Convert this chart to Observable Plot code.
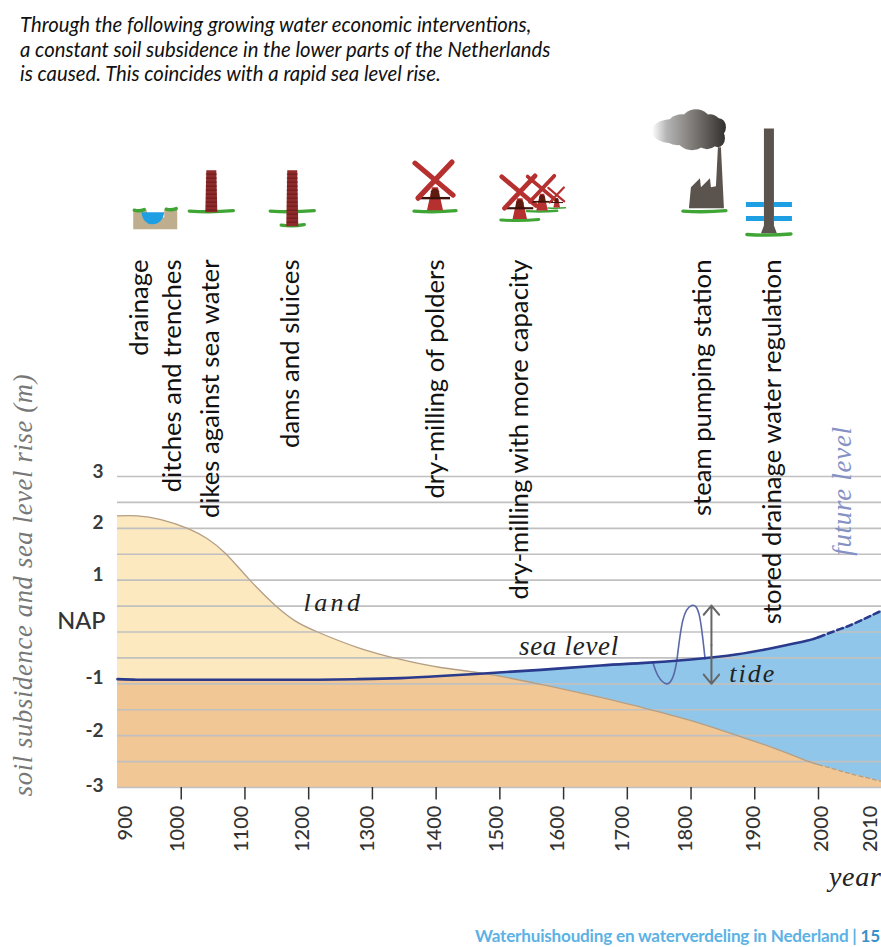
<!DOCTYPE html>
<html>
<head>
<meta charset="utf-8">
<script src="https://cdn.jsdelivr.net/npm/d3@7"></script>
<script src="https://cdn.jsdelivr.net/npm/@observablehq/plot@0.6"></script>
<style>
html,body{margin:0;padding:0;background:#fff;overflow:hidden}
#head{height:95px;box-sizing:border-box;padding:12px 0 0 20px;font:italic 20.3px/24.5px Lato,sans-serif;color:#111}
#foot{height:22px;text-align:right;padding-right:1px;font:700 17.1px/22px Lato,sans-serif;letter-spacing:-.2px;color:#5cb2e4}
#foot b{color:#3a90c8;font-weight:700}
svg{display:block}
.script{letter-spacing:.7px}
.mid{letter-spacing:2px}
.wide{letter-spacing:3.4px}
</style>
</head>
<body>
<div id="head">Through the following growing water economic interventions,<br>a constant soil subsidence in the lower parts of the Netherlands<br>is caused. This coincides with a rapid sea level rise.</div>
<div id="chart"></div>
<div id="foot">Waterhuishouding en waterverdeling in Nederland | <b>15</b></div>
<script>
const years = [900,931,968,1010,1041,1070,1107,1146,1178,1214,1277,1344,1407,1475,1564,1658,1721,1800,1873,1930,1983,2000,2003.5,2005.6,2010];
const land  = [2.24,2.24,2.17,2.0,1.80,1.51,1.01,0.53,0.22,0,-0.30,-0.53,-0.685,-0.80,-1.01,-1.26,-1.45,-1.71,-2.0,-2.24,-2.49,-2.56,-2.68,-2.75,-2.88];
const sea   = [-0.91,-0.92,-0.92,-0.92,-0.92,-0.92,-0.92,-0.92,-0.92,-0.92,-0.91,-0.89,-0.85,-0.80,-0.73,-0.645,-0.60,-0.53,-0.43,-0.305,-0.165,-0.10,0.06,0.16,0.41];
const tideYears = [1740,1748,1762,1771.5,1778,1787,1801,1813,1822];
const tideLevel = [-0.58,-0.84,-1.0,-0.87,-0.52,0.22,0.51,0.32,-0.52];
const gridLevels = [3,2.5,2,1.5,1,0.5,0,-0.5,-1,-1.5,-2,-2.5,-3];
const xTicks = [1000,1100,1200,1300,1400,1500,1600,1700,1800,1900,2000];
const xLabels = ["900","1000","1100","1200","1300","1400","1500","1600","1700","1800","1900","2000","2010"];
const xLabelAt = [912,995,1095,1190,1293,1397,1495,1590,1692,1792,1898,2000.5,2008.2];
const yLabels = ["3","2","1","-1","-2","-3"];
const yLabelAt = [3.08,2.11,1.11,-0.88,-1.9,-2.96];
const steps = ["drainage","ditches and trenches","dikes against sea water","dams and sluices","dry-milling of polders","dry-milling with more capacity","steam pumping station","stored drainage water regulation"];
const stepYears = [935,987,1047,1172,1399,1532,1819,1928];
const iconKinds = ["ditch","dike","dam","mill","mill","mill","mill","factory","pump"];
const iconYears = [960,1048,1175,1399,1532,1567,1590,1821,1923];
const iconLevels = [8.11,8.11,8.11,8.11,7.94,8.11,8.17,8.11,7.66];
const iconSizes = [1,1,1,1,0.9,0.72,0.42,1,1];

const table = years.map((year,i)=>({year,land:land[i],sea:sea[i]}));
const water = table.filter(d=>d.year>=1475);
const tide = tideYears.map((year,i)=>({year,level:tideLevel[i]}));
const H = 95, curve = "natural";

function drawIcon(g, kind, id){
  const green="#3fa535", brick="#8f2b2b", red="#b5302f", dark="#5b544e", blue="#1f9fe3";
  const ground=(x1,x2,y=0)=>g.append("path").attr("d",`M${x1},${y}Q${(x1+x2)/2},${y+1.5} ${x2},${y-.5}`).attr("stroke",green).attr("stroke-width",3.4).attr("fill","none").attr("stroke-linecap","round");
  const poly=(p,f)=>g.append("polygon").attr("points",p).attr("fill",f);
  if(kind==="ditch"){
    poly("-22,-2 -9,-2 -7,6 9,6 9,-2 22,-2 22,18 -22,18","#bfae8e");
    g.append("path").attr("d","M-14,1 H9 Q7,13 -3,13 Q-12,13 -14,1Z").attr("fill",blue);
    ground(-21,-11,-1); ground(11,21,-2);
  } else if(kind==="dike"||kind==="dam"){
    if(kind==="dike") ground(-22,22);
    else { ground(-22,22); ground(-11,12,14); }
    const bottom = kind==="dike"?1:15;
    poly(`-5,-41 5,-41 6,${bottom} -6,${bottom}`,brick);
    for(let y=-37;y<bottom;y+=4) g.append("path").attr("d",`M-5.5,${y}H5.5`).attr("stroke","#5e1616").attr("stroke-width",.8);
  } else if(kind==="mill"){
    ground(-21,21);
    poly("-3,-24 3,-24 8,-1 -8,-1",red);
    g.append("path").attr("d","M-4.5,-13 L-4,-20 Q0,-26 4,-20 L4.5,-13Z").attr("fill","#5e1c10");
    g.append("path").attr("d","M-15,-13H15").attr("stroke","#3a120a").attr("stroke-width",2.4);
    g.append("path").attr("d","M-20,-48L18,-16M17,-49L-17,-13").attr("stroke",red).attr("stroke-width",5.2).attr("stroke-linecap","round");
  } else if(kind==="factory"){
    const grad = g.append("linearGradient").attr("id",id).attr("gradientUnits","userSpaceOnUse").attr("x1",-52).attr("x2",21).attr("y1",0).attr("y2",0);
    [[0,"#fff"],[.2,"#b5b5b5"],[.55,"#807c78"],[1,"#35312e"]].forEach(([o,c])=>grad.append("stop").attr("offset",o).attr("stop-color",c));
    const smoke = g.append("g").attr("fill",`url(#${id})`);
    [[-33,-80,19,12],[-22,-85,15,12],[-8,-88,15,14],[6,-84,12,13],[15,-84,7,9],[14,-73,7,9],[3,-72,11,10],[-12,-73,15,12],[-26,-75,14,9]].forEach(([cx,cy,rx,ry])=>smoke.append("ellipse").attr("cx",cx).attr("cy",cy).attr("rx",rx).attr("ry",ry));
    poly("-15,-3 -13,-24 -4,-33 -3,-24 6,-33 7,-24 12,-25 14,-64 17,-64 20,-3",dark);
    ground(-21,22);
  } else if(kind==="pump"){
    poly("-5,-106 5,-106 5,-9 8,-1 -8,-1 -5,-9",dark);
    g.append("path").attr("d","M-23,-30H-5M5,-30H23M-23,-16H-5M5,-16H23").attr("stroke",blue).attr("stroke-width",5);
    ground(-22,22);
  }
}
const iconMark = (index, {x,y}) => {
  const root = d3.create("svg:g");
  iconKinds.forEach((kind,i)=>{
    const g = root.append("g").attr("transform",`translate(${x(iconYears[i])},${y(iconLevels[i])}) scale(${iconSizes[i]})`);
    drawIcon(g,kind,"smoke"+i);
  });
  return root.node();
};

const sansText = {rotate:-90,textAnchor:"end",fontFamily:"Lato, sans-serif",fontSize:25.7,fill:"#111"};
const hand = {fontFamily:"'Liberation Serif', serif",fontStyle:"italic",className:"script",fill:"#222"};

const plot = Plot.plot({
  width:881, height:830, margin:0,
  x:{type:"linear",domain:[900,2000,2010],range:[117,818,881],axis:null},
  y:{type:"linear",domain:[3,-3],range:[476-H,787-H],axis:null},
  marks:[
    Plot.areaY(table,{x:"year",y1:-3,y2:"land",fill:"#fde9bf",curve}),
    Plot.areaY(table,{x:"year",y1:-3,y2:"sea",fill:"#f0c795",curve}),
    Plot.areaY(water,{x:"year",y1:"land",y2:"sea",fill:"#8fc6e9",curve}),
    Plot.ruleY(gridLevels,{y:d=>d,x1:900,x2:2010,stroke:"#c0c0c0",strokeWidth:1.6}),
    Plot.line(table.filter(d=>d.year<=2000),{x:"year",y:"land",stroke:"#b49f86",strokeWidth:1.3,curve}),
    Plot.line(table.filter(d=>d.year>=2000),{x:"year",y:"land",stroke:"#b49f86",strokeWidth:1.3,strokeDasharray:"4 3",curve}),
    Plot.line(tide,{x:"year",y:"level",stroke:"#5a68a8",strokeWidth:1.6,curve}),
    Plot.line(table.filter(d=>d.year<=2000.8),{x:"year",y:"sea",stroke:"#2a3a8c",strokeWidth:2.6,curve}),
    Plot.line(table.filter(d=>d.year>=2000),{x:"year",y:"sea",stroke:"#2a3a8c",strokeWidth:2.6,strokeDasharray:"6 4",curve}),
    Plot.arrow([{a:-0.25,b:0.51},{a:-0.25,b:-1}],{x:1832,y1:"a",y2:"b",x1:1832,x2:1832,bend:0,stroke:"#666",strokeWidth:2,headLength:9,headAngle:80}),
    Plot.ruleX(xTicks,{x:d=>d,y1:-3,y2:-3.24,stroke:"#333",strokeWidth:1.5}),
    Plot.text(xLabels,{x:(d,i)=>xLabelAt[i],y:-3.35,rotate:-90,textAnchor:"end",fontFamily:"Lato, sans-serif",fontWeight:500,fontSize:20,fill:"#333"}),
    Plot.text(yLabels,{x:900,y:(d,i)=>yLabelAt[i],dx:-14,textAnchor:"end",fontFamily:"Lato, sans-serif",fontWeight:700,fontSize:19,fill:"#3a3a3a"}),
    Plot.text(["NAP"],{x:900,y:0.2,dx:-12,textAnchor:"end",fontFamily:"Lato, sans-serif",fontWeight:500,fontSize:23.5,fill:"#333"}),
    Plot.text(steps,{x:(d,i)=>stepYears[i],y:7.187,...sansText}),
    Plot.text(["soil subsidence and sea level rise (m)"],{x:752,y:-3.17,rotate:-90,textAnchor:"start",...hand,fontSize:26.5,fill:"#777"}),
    Plot.text(["land"],{x:1192,y:0.56,textAnchor:"start",...hand,fontSize:26,className:"wide"}),
    Plot.text(["sea level"],{x:1530,y:-0.28,textAnchor:"start",...hand,fontSize:27}),
    Plot.text(["tide"],{x:1860,y:-0.8,textAnchor:"start",...hand,fontSize:26,className:"mid"}),
    Plot.text(["year"],{x:2010,y:-4.72,textAnchor:"end",...hand,fontSize:28}),
    Plot.text(["future level"],{x:2003.8,y:1.47,rotate:-90,textAnchor:"start",...hand,fontSize:27,fill:"#8492c4"}),
    iconMark
  ]
});
document.getElementById("chart").append(plot);
</script>
</body>
</html>
